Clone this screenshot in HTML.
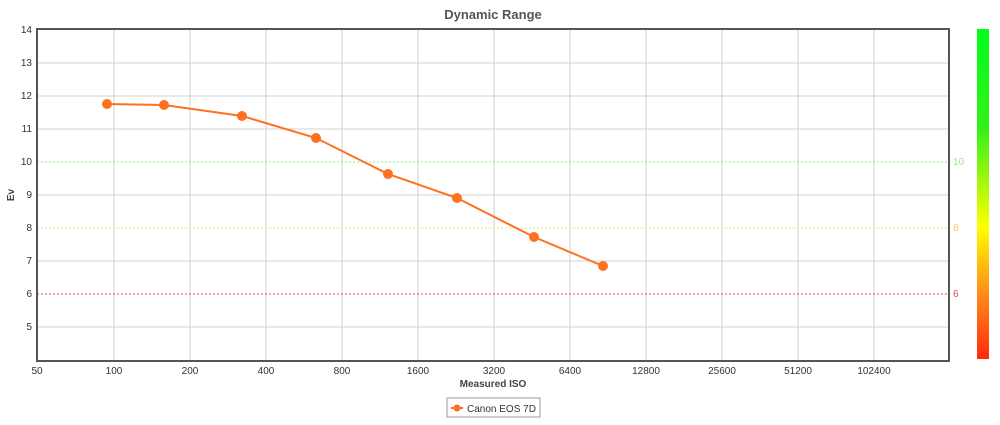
<!DOCTYPE html>
<html><head><style>
body{margin:0;background:#fff;}
svg{display:block;font-family:"Liberation Sans",sans-serif;}
</style></head><body>
<svg width="1000" height="425" viewBox="0 0 1000 425">
<defs>
<linearGradient id="g" x1="0" y1="0" x2="0" y2="1">
<stop offset="0" stop-color="#00ff1a"/>
<stop offset="0.3" stop-color="#33f01a"/>
<stop offset="0.6" stop-color="#ffff00"/>
<stop offset="0.8" stop-color="#ff8c1a"/>
<stop offset="1" stop-color="#ff2a0a"/>
</linearGradient>
</defs>
<text x="493" y="19" text-anchor="middle" font-size="13" font-weight="bold" fill="#555">Dynamic Range</text>
<g stroke="#d0d0d0" stroke-width="1">
<line x1="37" x2="949" y1="63" y2="63"/><line x1="37" x2="949" y1="96" y2="96"/>
<line x1="37" x2="949" y1="129" y2="129"/><line x1="37" x2="949" y1="195" y2="195"/>
<line x1="37" x2="949" y1="261" y2="261"/><line x1="37" x2="949" y1="327" y2="327"/>
<line x1="114" x2="114" y1="29" y2="361"/><line x1="190" x2="190" y1="29" y2="361"/>
<line x1="266" x2="266" y1="29" y2="361"/><line x1="342" x2="342" y1="29" y2="361"/>
<line x1="418" x2="418" y1="29" y2="361"/><line x1="494" x2="494" y1="29" y2="361"/>
<line x1="570" x2="570" y1="29" y2="361"/><line x1="646" x2="646" y1="29" y2="361"/>
<line x1="722" x2="722" y1="29" y2="361"/><line x1="798" x2="798" y1="29" y2="361"/>
<line x1="874" x2="874" y1="29" y2="361"/>
</g>
<line x1="37" x2="949" y1="162" y2="162" stroke="#8ef07a" stroke-dasharray="2,2"/>
<line x1="37" x2="949" y1="228" y2="228" stroke="#f5d98a" stroke-dasharray="2,2"/>
<line x1="37" x2="949" y1="294" y2="294" stroke="#e24a4a" stroke-dasharray="2,2"/>
<rect x="37" y="29" width="912" height="332" fill="none" stroke="#555" stroke-width="2"/>
<g font-size="10" fill="#333" text-anchor="end">
<text x="32" y="33">14</text><text x="32" y="66">13</text><text x="32" y="99">12</text>
<text x="32" y="132">11</text><text x="32" y="165">10</text><text x="32" y="198">9</text>
<text x="32" y="231">8</text><text x="32" y="264">7</text><text x="32" y="297">6</text>
<text x="32" y="330">5</text>
</g>
<g font-size="10" fill="#333" text-anchor="middle">
<text x="37" y="374">50</text><text x="114" y="374">100</text><text x="190" y="374">200</text>
<text x="266" y="374">400</text><text x="342" y="374">800</text><text x="418" y="374">1600</text>
<text x="494" y="374">3200</text><text x="570" y="374">6400</text><text x="646" y="374">12800</text>
<text x="722" y="374">25600</text><text x="798" y="374">51200</text><text x="874" y="374">102400</text>
</g>
<text x="493" y="387" text-anchor="middle" font-size="10" font-weight="bold" fill="#444">Measured ISO</text>
<text transform="translate(14,195) rotate(-90)" text-anchor="middle" font-size="10" font-weight="bold" fill="#444">Ev</text>
<text x="953" y="165" font-size="10" fill="#8ef07a">10</text>
<text x="953" y="231" font-size="10" fill="#f5c860">8</text>
<text x="953" y="297" font-size="10" fill="#e24a4a">6</text>
<rect x="977" y="29" width="12" height="330" fill="url(#g)"/>
<polyline fill="none" stroke="#ff7020" stroke-width="2" points="107,104 164,105 242,116 316,138 388,174 457,198 534,237 603,266"/>
<g fill="#ff7020">
<circle cx="107" cy="104" r="5"/><circle cx="164" cy="105" r="5"/><circle cx="242" cy="116" r="5"/>
<circle cx="316" cy="138" r="5"/><circle cx="388" cy="174" r="5"/><circle cx="457" cy="198" r="5"/>
<circle cx="534" cy="237" r="5"/><circle cx="603" cy="266" r="5"/>
</g>
<rect x="447" y="398" width="93" height="19" fill="#fff" stroke="#999"/>
<line x1="451" x2="463" y1="408" y2="408" stroke="#ff7020" stroke-width="2"/>
<circle cx="457" cy="408" r="3.5" fill="#ff7020"/>
<text x="467" y="412" font-size="10" fill="#333">Canon EOS 7D</text>
</svg>
</body></html>
